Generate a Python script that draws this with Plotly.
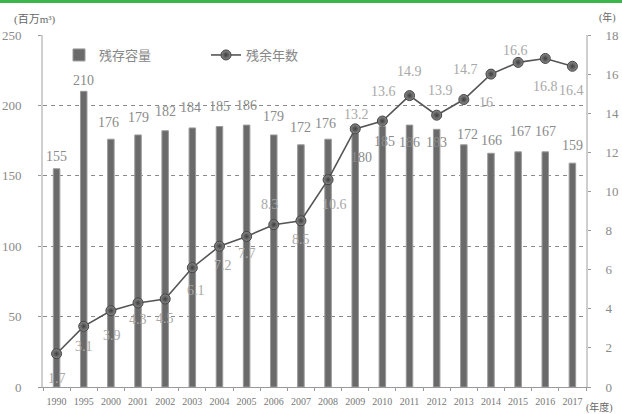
import plotly.graph_objects as go

# ---------------- data ----------------
years = ["1990", "1995", "2000", "2001", "2002", "2003", "2004", "2005", "2006", "2007",
         "2008", "2009", "2010", "2011", "2012", "2013", "2014", "2015", "2016", "2017"]
capacity = [155, 210, 176, 179, 182, 184, 185, 186, 179, 172,
            176, 180, 185, 186, 183, 172, 166, 167, 167, 159]
remaining_years = [1.7, 3.1, 3.9, 4.3, 4.5, 6.1, 7.2, 7.7, 8.3, 8.5,
                   10.6, 13.2, 13.6, 14.9, 13.9, 14.7, 16.0, 16.6, 16.8, 16.4]
capacity_labels = ["155", "210", "176", "179", "182", "184", "185", "186", "179", "172",
                   "176", "180", "185", "186", "183", "172", "166", "167", "167", "159"]
remaining_labels = ["1.7", "3.1", "3.9", "4.3", "4.5", "6.1", "7.2", "7.7", "8.3", "8.5",
                    "10.6", "13.2", "13.6", "14.9", "13.9", "14.7", "16", "16.6", "16.8", "16.4"]
left_ticks = [0, 50, 100, 150, 200, 250]
right_ticks = [0, 2, 4, 6, 8, 10, 12, 14, 16, 18]
series_names = ["残存容量", "残余年数"]

# ---------------- styles (label offsets in px: dx right, dy down) ----------------
bar_label_offsets = [(0, -12), (0, -11), (-2, -17), (0, -17), (0, -19), (-2, -20), (0, -20), (0, -20),
                     (0, -18), (0, -17), (-3, -16), (6, 24), (2, 15), (0, 17), (0, 13),
                     (4, -10), (1, -13), (2, -20), (0, -20), (0, -18)]
line_label_offsets = [(0, 25), (0, 20), (1, 25), (0, 17), (0, 19), (4, 23), (4, 19), (0, 17),
                      (-4, -20), (0, 19), (6, 25), (1, -14), (1, -30), (0, -24), (4, -25),
                      (2, -30), (-5, 28), (-3, -12), (0, 28), (-1, 24)]

FONT = "Liberation Serif, Noto Sans CJK JP, serif"
GRAY_TXT = "#8a8a8a"

fig = go.Figure()

fig.add_trace(go.Bar(
    x=years, y=capacity, name=series_names[0], width=0.24,
    marker=dict(color="#6a6a6a", line=dict(color="#9a9a9a", width=1)),
    legend="legend", yaxis="y",
))

fig.add_trace(go.Scatter(
    x=years, y=remaining_years, name=series_names[1], mode="lines+markers",
    line=dict(color="#555555", width=1.6),
    marker=dict(size=10, color="#8c8c8c", line=dict(color="#444444", width=1),
                gradient=dict(type="radial", color="#3c3c3c")),
    legend="legend2", yaxis="y2",
))

annotations = []
# category serial numbers (index) are used so numeric-looking year names are not misread
for i, (v, lab, (dx, dy)) in enumerate(zip(capacity, capacity_labels, bar_label_offsets)):
    annotations.append(dict(x=i, y=v, xref="x", yref="y", text=lab, showarrow=False,
                            xshift=dx, yshift=-dy,
                            font=dict(family=FONT, size=14, color="#8a8a8a")))
for i, (v, lab, (dx, dy)) in enumerate(zip(remaining_years, remaining_labels, line_label_offsets)):
    annotations.append(dict(x=i, y=v, xref="x", yref="y2", text=lab, showarrow=False,
                            xshift=dx, yshift=-dy,
                            font=dict(family=FONT, size=14, color="#a8a8a8")))

# axis unit titles
annotations += [
    dict(x=-0.057, y=1.043, xref="paper", yref="paper", xanchor="left", yanchor="middle",
         text="(百万m³)", showarrow=False, font=dict(family=FONT, size=11, color="#666")),
    dict(x=1.0387, y=1.05, xref="paper", yref="paper", xanchor="center", yanchor="middle",
         text="(年)", showarrow=False, font=dict(family=FONT, size=10, color="#666")),
    dict(x=1.025, y=-0.058, xref="paper", yref="paper", xanchor="center", yanchor="middle",
         text="(年度)", showarrow=False, font=dict(family=FONT, size=10, color="#666")),
]

W, H = 622, 414
L, R, T, B = 43, 36, 35, 27
pw, ph = W - L - R, H - T - B

fig.update_layout(
    width=W, height=H,
    margin=dict(l=L, r=R, t=T, b=B, pad=0, autoexpand=False),
    paper_bgcolor="white", plot_bgcolor="white",
    font=dict(family=FONT, color=GRAY_TXT),
    showlegend=True,
    legend=dict(orientation="h", x=(59 - L) / pw, y=1 - (55 - T) / ph,
                xanchor="left", yanchor="middle", bgcolor="rgba(0,0,0,0)",
                font=dict(family=FONT, size=13, color="#888")),
    legend2=dict(orientation="h", x=(206 - L) / pw, y=1 - (55 - T) / ph,
                 xanchor="left", yanchor="middle", bgcolor="rgba(0,0,0,0)",
                 font=dict(family=FONT, size=13, color="#888")),
    xaxis=dict(type="category", categoryorder="array", categoryarray=years, automargin=False,
               range=[-0.5, len(years) - 0.5], showline=True, linecolor="#9a9a9a", linewidth=1,
               ticks="outside", tickson="boundaries", ticklen=3, tickcolor="#9a9a9a",
               ticklabelstandoff=5,
               tickangle=0, tickfont=dict(family=FONT, size=10, color="#777"), showgrid=False),
    yaxis=dict(range=[0, 250], tickvals=left_ticks, showline=True, linecolor="#cfcfcf",
               automargin=False,
               linewidth=2, ticks="outside", ticklen=3, tickcolor="#999",
               ticklabelstandoff=14, tickfont=dict(family=FONT, size=13, color="#8a8a8a"),
               showgrid=True, gridcolor="#8a8a8a", gridwidth=1, griddash="4px,4px",
               zeroline=False),
    yaxis2=dict(range=[0, 18], tickvals=right_ticks, overlaying="y", side="right",
                automargin=False,
                showline=True, linecolor="#cfcfcf", linewidth=2, ticks="outside",
                ticklen=3, tickcolor="#999", ticklabelstandoff=12,
                tickfont=dict(family=FONT, size=13, color="#8a8a8a"),
                showgrid=False, zeroline=False),
    annotations=annotations,
    shapes=[dict(type="rect", xref="paper", yref="paper",
                 x0=-L / pw, x1=1 + R / pw, y0=1 + (T - 3) / ph, y1=1 + T / ph,
                 fillcolor="#3cb54a", line=dict(width=0), layer="above")],
)

fig.write_html("out.html")
